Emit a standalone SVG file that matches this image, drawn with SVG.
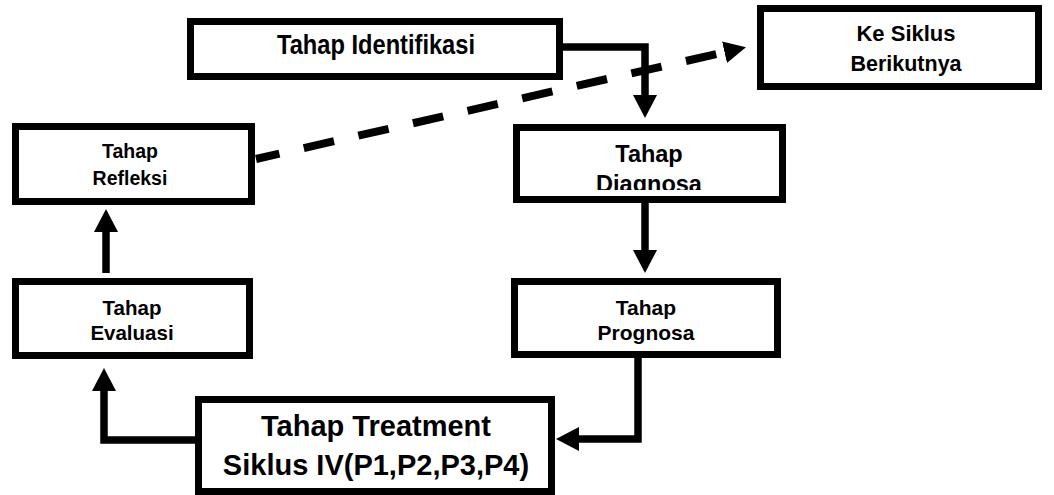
<svg xmlns="http://www.w3.org/2000/svg" width="1054" height="495" viewBox="0 0 1054 495">
<style>
.box{fill:#fff;stroke:#000;stroke-width:7}
.t{font-family:"Liberation Sans",Arial,sans-serif;font-weight:bold;fill:#000;text-anchor:middle}
.c{fill:none;stroke:#000;stroke-width:7.5;stroke-linejoin:miter}
.d{fill:none;stroke:#000;stroke-width:8;stroke-dasharray:31 25;stroke-dashoffset:7}
</style>
<defs>
<marker id="ah" markerUnits="userSpaceOnUse" markerWidth="24" markerHeight="24" viewBox="0 0 24 24" refX="1" refY="12" orient="auto">
<path d="M0,0 L23,12 L0,24 Z" fill="#000"/>
</marker>
<marker id="ahd" markerUnits="userSpaceOnUse" markerWidth="24" markerHeight="24" viewBox="0 0 24 24" refX="1" refY="12" orient="auto">
<path d="M0,1 L22,12 L0,23 Z" fill="#000"/>
</marker>
<clipPath id="clipDiag"><rect x="520" y="130" width="258" height="60"/></clipPath>
</defs>
<g id="connectors">
<path class="c" d="M563,47 H645 V96" marker-end="url(#ah)"/>
<path class="c" d="M645,203 V251" marker-end="url(#ah)"/>
<path class="c" d="M638,358 V439 H578" marker-end="url(#ah)"/>
<path class="c" d="M195,440 H104 V390" marker-end="url(#ah)"/>
<path class="c" d="M106,273 V231" marker-end="url(#ah)"/>
<path class="d" d="M256,159 L725.5,52" marker-end="url(#ahd)"/>
</g>
<g id="identifikasi">
<rect class="box" x="190.5" y="21.5" width="369" height="55"/>
<text class="t" x="376" y="54" font-size="28" textLength="198" lengthAdjust="spacingAndGlyphs">Tahap Identifikasi</text>
</g>
<g id="ke-siklus">
<rect class="box" x="760.5" y="8.5" width="278" height="78"/>
<text class="t" x="906" y="41" font-size="22">Ke Siklus</text>
<text class="t" x="906" y="71" font-size="21.5">Berikutnya</text>
</g>
<g id="refleksi">
<rect class="box" x="15.5" y="126.5" width="236" height="75"/>
<text class="t" x="130" y="158" font-size="19.5">Tahap</text>
<text class="t" x="130" y="185" font-size="19.5">Refleksi</text>
</g>
<g id="diagnosa">
<rect class="box" x="516.5" y="127.5" width="266" height="72"/>
<g clip-path="url(#clipDiag)">
<text class="t" x="649" y="162" font-size="23.5">Tahap</text>
<text class="t" x="649" y="191.5" font-size="23.5">Diagnosa</text>
</g>
</g>
<g id="evaluasi">
<rect class="box" x="15.5" y="281.5" width="234" height="74"/>
<text class="t" x="132" y="315" font-size="20.5">Tahap</text>
<text class="t" x="132" y="339.5" font-size="20.5">Evaluasi</text>
</g>
<g id="prognosa">
<rect class="box" x="514.5" y="281.5" width="263" height="73"/>
<text class="t" x="646" y="314.5" font-size="21">Tahap</text>
<text class="t" x="646" y="339.5" font-size="21">Prognosa</text>
</g>
<g id="treatment">
<rect class="box" x="198.5" y="399.5" width="353" height="92"/>
<text class="t" x="376" y="436" font-size="29">Tahap Treatment</text>
<text class="t" x="376" y="475" font-size="29">Siklus IV(P1,P2,P3,P4)</text>
</g>
</svg>
